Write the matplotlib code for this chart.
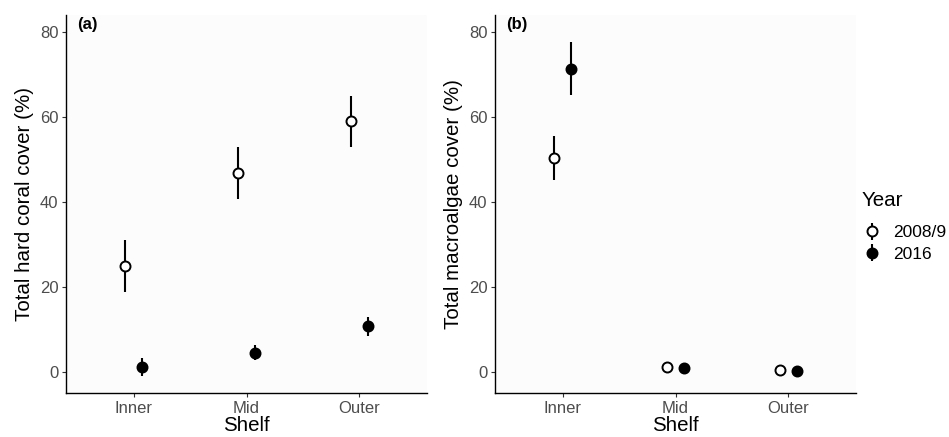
import matplotlib
matplotlib.use("Agg")
import matplotlib.pyplot as plt
import numpy as np

plt.rcParams['font.family'] = ['Liberation Sans', 'DejaVu Sans']

shelves = ["Inner", "Mid", "Outer"]
years = ["2008/9", "2016"]

# hard coral cover (%) - mean, lower, upper
coral_0809 = [25.0, 46.8, 59.0]
coral_0809_lo = [18.9, 40.8, 52.9]
coral_0809_hi = [31.1, 52.9, 65.0]
coral_2016 = [1.25, 4.6, 10.75]
coral_2016_lo = [-0.9, 2.8, 8.5]
coral_2016_hi = [3.4, 6.4, 12.9]

# macroalgae cover (%)
algae_0809 = [50.35, 1.25, 0.6]
algae_0809_lo = [45.3, 0.6, 0.2]
algae_0809_hi = [55.5, 1.9, 1.0]
algae_2016 = [71.4, 0.95, 0.3]
algae_2016_lo = [65.3, 0.4, 0.0]
algae_2016_hi = [77.7, 1.5, 0.6]

fig = plt.figure(figsize=(9.49, 4.37), dpi=100)
W, H = 949, 437
ax_a = fig.add_axes([66 / W, 1 - 393 / H, (427 - 66) / W, (393 - 15) / H])
ax_b = fig.add_axes([495 / W, 1 - 393 / H, (856 - 495) / W, (393 - 15) / H])

x = np.arange(1, len(shelves) + 1)
dodge = 0.075


def draw_panel(ax, m1, lo1, hi1, m2, lo2, hi2, ylabel, tag):
    ax.set_facecolor('#fcfcfc')
    for vals, lo, hi, xs, face, lab in [
        (m1, lo1, hi1, x - dodge, 'white', years[0]),
        (m2, lo2, hi2, x + dodge, 'black', years[1]),
    ]:
        vals = np.array(vals)
        err = [vals - np.array(lo), np.array(hi) - vals]
        ax.errorbar(xs, vals, yerr=err, fmt='o', color='black', ecolor='black',
                    elinewidth=1.5, capsize=0, markersize=7.2,
                    markerfacecolor=face, markeredgecolor='black',
                    markeredgewidth=1.4, label=lab)
    ax.set_xlim(0.4, 3.6)
    ax.set_ylim(-4.9, 84)
    ax.set_xticks(x)
    ax.set_xticklabels(shelves)
    ax.set_yticks([0, 20, 40, 60, 80])
    ax.tick_params(axis='both', labelsize=12, colors='#333333', length=3,
                   width=0.8, labelcolor='#4d4d4d', pad=2.5)
    for s in ['top', 'right']:
        ax.spines[s].set_visible(False)
    for s in ['left', 'bottom']:
        ax.spines[s].set_color('black')
        ax.spines[s].set_linewidth(1.0)
    ax.set_xlabel("Shelf", fontsize=14.8, labelpad=0)
    ax.set_ylabel(ylabel, fontsize=14.8, labelpad=4)
    ax.text(0.03, 0.995, tag, transform=ax.transAxes, fontsize=12,
            fontweight='bold', ha='left', va='top')


draw_panel(ax_a, coral_0809, coral_0809_lo, coral_0809_hi,
           coral_2016, coral_2016_lo, coral_2016_hi,
           "Total hard coral cover (%)", "(a)")
draw_panel(ax_b, algae_0809, algae_0809_lo, algae_0809_hi,
           algae_2016, algae_2016_lo, algae_2016_hi,
           "Total macroalgae cover (%)", "(b)")

handles, labels = ax_b.get_legend_handles_labels()
leg = fig.legend(handles, labels, title="Year", loc='upper left',
                 bbox_to_anchor=(862 / W, 1 - 191 / H), frameon=False,
                 fontsize=12.5, title_fontsize=14.8, handletextpad=0.7,
                 labelspacing=0.35, handlelength=1.1, borderaxespad=0,
                 borderpad=0)
leg._legend_box.align = "left"
leg._legend_box.sep = 11

fig.savefig("out.png", dpi=100, facecolor='white')
